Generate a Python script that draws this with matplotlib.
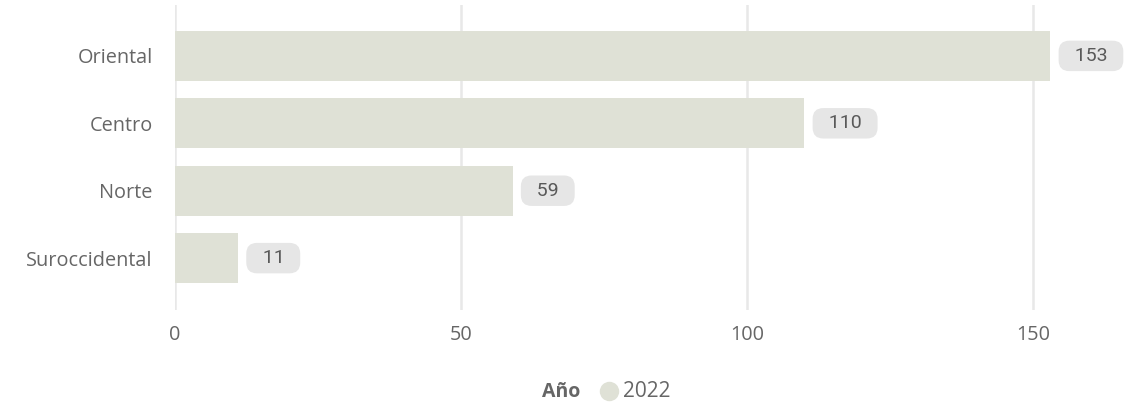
import matplotlib.pyplot as plt
from matplotlib.lines import Line2D

regions = ['Oriental', 'Centro', 'Norte', 'Suroccidental']
values = [153, 110, 59, 11]
year = '2022'
legend_title = 'Año'

bar_color = '#dfe1d6'
text_color = '#666666'
plt.rcParams['font.family'] = ['Open Sans', 'DejaVu Sans']

fig = plt.figure(figsize=(11.4, 4.07), dpi=100)
ax = fig.add_axes([0.1535, 0.2383, 0.828, 0.7494])

ypos = list(range(len(regions)))
ax.barh(ypos, values, height=0.74, color=bar_color, zorder=2)

# value labels in grey rounded boxes
for y, v in zip(ypos, values):
    ax.annotate('  ' + str(v) + '  ', xy=(v, y),
                xytext=(10.5, 0), textcoords='offset points',
                va='center', ha='left', fontsize=14, color='#595959',
                fontfamily=['Roboto', 'DejaVu Sans'],
                bbox=dict(boxstyle='round,pad=0.32,rounding_size=0.55',
                          fc='#e6e6e6', ec='none'))

ax.set_yticks(ypos)
ax.set_yticklabels(regions)
ax.set_ylim(3.77, -0.755)
ax.set_xlim(0, 165)
ax.set_xticks([0, 50, 100, 150])
ax.grid(axis='x', color='#e8e8e8', linewidth=1.8, zorder=0)
ax.set_axisbelow(True)
for s in ax.spines.values():
    s.set_visible(False)
ax.tick_params(axis='both', length=0, labelsize=14.3, colors=text_color)
ax.tick_params(axis='x', pad=11)
ax.tick_params(axis='y', pad=16)

# legend at the bottom: bold title, dot, year
ly = 0.037
fig.text(0.4754, ly, legend_title, fontsize=14, fontweight='bold', color=text_color,
         ha='left', va='center')
fig.add_artist(Line2D([0.534], [ly + 0.002], transform=fig.transFigure, marker='o',
                      markersize=14, markerfacecolor=bar_color, markeredgecolor='none',
                      linestyle=''))
fig.text(0.5465, ly, year, fontsize=15, color=text_color, ha='left', va='center')

fig.savefig('out.png', dpi=100)
